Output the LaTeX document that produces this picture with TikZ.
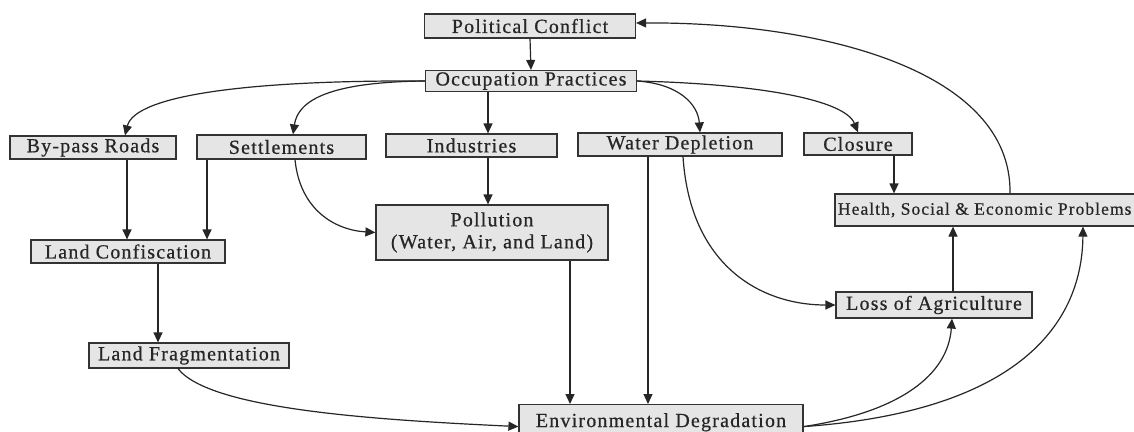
\documentclass[tikz,border=0pt]{standalone}
\usepackage{fontspec}
\setmainfont{Liberation Serif}
\newfontfamily\boxfont{Liberation Serif}[LetterSpace=6,FakeBold=0.6]
\usetikzlibrary{arrows.meta}
\usetikzlibrary{positioning}

\begin{document}
\begin{tikzpicture}[x=1pt,y=-1pt,->,>={Triangle[length=10pt,width=9pt]},
	line width=1.2pt,draw=black!85,
	box/.style={draw=black!80,fill=gray!20,line width=1.2pt,inner sep=1pt,
		font=\boxfont\fontsize{20}{22}\selectfont,text=black!85}]
	
	\clip (0,0) rectangle (1134,431);
	\fill[white] (0,0) rectangle (1134,431);
	
	% boxes
	\node[box,minimum width=211,minimum height=24] (pc) at (530,26) {Political Conflict};
	\node[box,minimum width=211,minimum height=21] (op) at (531,81) {Occupation Practices};
	\node[box,minimum width=166,minimum height=23] (bypass) at (93,147.5) {By-pass Roads};
	\node[box,minimum width=169,minimum height=24] (settle) at (281.5,147) {Settlements};
	\node[box,minimum width=171,minimum height=23] (indus) at (471.5,145.5) {Industries};
	\node[box,minimum width=204,minimum height=23] (water) at (680,144.5) {Water Depletion};
	\node[box,minimum width=108,minimum height=22] (closure) at (858,144) {Closure};
	\node[box,minimum width=305,minimum height=32,
		font=\boxfont\fontsize{17.5}{20}\selectfont] (health) at (987.5,210)
		{\makebox[299pt][l]{Health, Social \& Economic Problems}};
	\node[box,minimum width=194,minimum height=23] (landconf) at (128,251.5) {Land Confiscation};
	\node[box,minimum width=232,minimum height=55,align=center] (pollution) at (492,232.5)
		{Pollution\\(Water, Air, and Land)};
	\node[box,minimum width=196,minimum height=26] (loss) at (934,305) {Loss of Agriculture};
	\node[box,minimum width=200,minimum height=25] (landfrag) at (189,355.5) {Land Fragmentation};
	\node[box,minimum width=284,minimum height=36,anchor=north] (envdeg) at (661,404)
		{\raisebox{5pt}{Environmental Degradation}};
	
	% straight connectors
	\draw (pc.south) -- (op.north);
	\draw ([xshift=-43]op.south) -- ([xshift=-43]op.south |- indus.north);
	\draw ([xshift=34]bypass.south) -- ([xshift=34]bypass.south |- landconf.north);
	\draw ([xshift=-74.5]settle.south) -- ([xshift=-74.5]settle.south |- landconf.north);
	\draw ([xshift=16.5]indus.south) -- ([xshift=16.5]indus.south |- pollution.north);
	\draw ([xshift=30]landconf.south) -- ([xshift=30]landconf.south |- landfrag.north);
	\draw ([xshift=78]pollution.south) -- ([xshift=78]pollution.south |- envdeg.north);
	\draw ([xshift=-32]water.south) -- ([xshift=-32]water.south |- envdeg.north);
	\draw ([xshift=36]closure.south) -- ([xshift=36]closure.south |- health.north);
	\draw ([xshift=19]loss.north) -- ([xshift=19]loss.north |- health.south);
	
	% curved connectors
	\draw (op.west) .. controls (250,80) and (135,95) .. ([xshift=32]bypass.north);
	\draw (op.west) .. controls (330,82) and (298,100) .. ([xshift=11.5]settle.north);
	\draw (op.east) .. controls (680,84) and (698,105) .. ([xshift=20]water.north);
	\draw (op.east) .. controls (760,84) and (845,100) .. (closure.north);
	\draw ([xshift=13.5]settle.south) .. controls (300,210) and (335,230) .. (pollution.west);
	\draw ([xshift=-11]landfrag.south) .. controls (210,410) and (380,420) .. ([yshift=-4]envdeg.west);
	\draw ([xshift=3]water.south) .. controls (690,265) and (760,305) .. (loss.west);
	\draw ([yshift=-4]envdeg.east) .. controls (900,412) and (948,375) .. ([xshift=18]loss.south);
	\draw ([yshift=-4]envdeg.east) .. controls (1010,412) and (1082,330) .. ([xshift=95.5]health.south);
	\draw ([xshift=22.5]health.north) .. controls (1012,70) and (820,22) .. ([yshift=3]pc.east);
\end{tikzpicture}
\end{document}
